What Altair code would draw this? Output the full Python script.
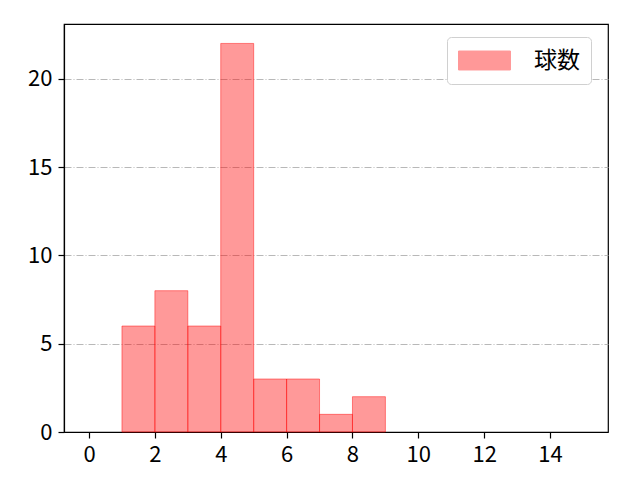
import altair as alt
import pandas as pd

# histogram bins (left edge, right edge) and counts
bin_start = [1, 2, 3, 4, 5, 6, 7, 8]
bin_end = [2, 3, 4, 5, 6, 7, 8, 9]
counts = [6, 8, 6, 22, 3, 3, 1, 2]
series = ["球数"] * len(counts)

df = pd.DataFrame({"start": bin_start, "end": bin_end, "count": counts, "series": series})

FONT = "Noto Sans CJK JP"

bars = alt.Chart(df).mark_rect(
    fillOpacity=0.4, stroke="red", strokeOpacity=0.45, strokeWidth=1
).encode(
    x=alt.X("start:Q", scale=alt.Scale(domain=[-0.76, 15.76], nice=False, zero=False),
            axis=alt.Axis(values=[0, 2, 4, 6, 8, 10, 12, 14], grid=False, title=None)),
    x2="end:Q",
    y=alt.Y("count:Q", scale=alt.Scale(domain=[0, 23.1], nice=False),
            axis=alt.Axis(values=[0, 5, 10, 15, 20], title=None, grid=True,
                          gridColor="#b0b0b0", gridDash=[7, 2, 1, 2], gridWidth=0.9)),
    y2=alt.datum(0),
    color=alt.Color("series:N", scale=alt.Scale(domain=["球数"], range=["red"]),
                    legend=alt.Legend(
                        title=None, orient="none", legendX=383, legendY=13,
                        symbolType="M-1,-0.79L3.33,-0.79L3.33,0.79L-1,0.79Z", symbolSize=576,
                        symbolOpacity=0.4, symbolStrokeColor="red", symbolStrokeWidth=1,
                        labelFontSize=23, labelFont=FONT, labelOffset=51, labelColor="black",
                        fillColor="white", strokeColor="#d0d0d0", cornerRadius=4,
                        padding=11)),
)

chart = bars.properties(
    width=544, height=408,
    autosize=alt.AutoSizeParams(type="none"),
    padding={"left": 56, "top": 16, "right": 16, "bottom": 40},
).configure_axis(
    labelFont=FONT, labelFontSize=22, labelColor="black",
    domainColor="black", domainWidth=1.2, tickColor="black", tickSize=6, tickWidth=1.2,
    labelPadding=6,
).configure_view(
    stroke="black", strokeWidth=1.2
)

chart.save("out.html", embed_options={"renderer": "svg", "actions": False})
